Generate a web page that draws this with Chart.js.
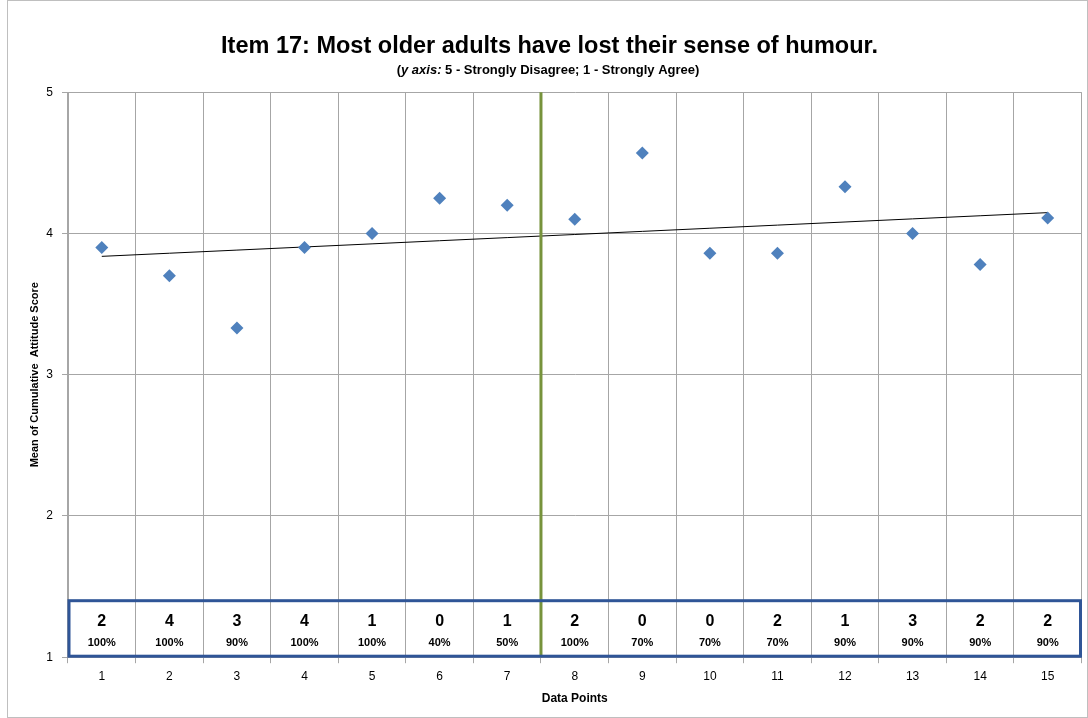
<!DOCTYPE html>
<html>
<head>
<meta charset="utf-8">
<script src="https://cdn.jsdelivr.net/npm/chart.js@4"></script>
<style>
  html, body { margin: 0; padding: 0; background: #fff; }
  #wrap { width: 1088px; height: 718px; position: relative; }
</style>
</head>
<body>
<div id="wrap"><canvas id="chart"></canvas></div>
<script>
const categories = ['1','2','3','4','5','6','7','8','9','10','11','12','13','14','15'];
const meanScores = [3.90, 3.70, 3.33, 3.90, 4.00, 4.25, 4.20, 4.10, 4.57, 3.86, 3.86, 4.33, 4.00, 3.78, 4.11];
const boxCounts = ['2','4','3','4','1','0','1','2','0','0','2','1','3','2','2'];
const boxPercents = ['100%','100%','90%','100%','100%','40%','50%','100%','70%','70%','70%','90%','90%','90%','90%'];
const yTicks = [1, 2, 3, 4, 5];
const phaseBreakAfter = 7;   // green line sits between point 7 and 8

// linear trend (least squares) over the means
const n = meanScores.length;
const mx = (n + 1) / 2;
const my = meanScores.reduce((a, b) => a + b, 0) / n;
let sxy = 0, sxx = 0;
meanScores.forEach((v, i) => { sxy += (i + 1 - mx) * (v - my); sxx += (i + 1 - mx) ** 2; });
const slope = sxy / sxx;
const trend = categories.map((_, i) => my + slope * (i + 1 - mx));

const FONT = "'Liberation Sans', Arial, sans-serif";

const extras = {
  id: 'extras',
  beforeDraw(chart) {
    const c = chart.ctx;
    c.save();
    c.fillStyle = '#fff';
    c.fillRect(0, 0, chart.width, chart.height);
    c.strokeStyle = '#bfbfbf';
    c.lineWidth = 1;
    c.strokeRect(7.5, 0.5, chart.width - 8, chart.height - 1);
    c.restore();
  },
  afterDraw(chart) {
    // subtitle with italic "y axis:" part
    const c = chart.ctx;
    c.save();
    c.fillStyle = '#000';
    c.textBaseline = 'middle';
    const parts = [
      ['(', 'bold 13px ' + FONT],
      ['y axis:', 'italic bold 13px ' + FONT],
      [' 5 - Strongly Disagree; 1 - Strongly Agree)', 'bold 13px ' + FONT]
    ];
    let w = 0;
    parts.forEach(p => { c.font = p[1]; w += c.measureText(p[0]).width; });
    let px = (chart.width + 8) / 2 - w / 2;
    parts.forEach(p => { c.font = p[1]; c.fillText(p[0], px, 70); px += c.measureText(p[0]).width; });
    c.restore();
  },
  afterDatasetsDraw(chart) {
    const c = chart.ctx, x = chart.scales.x, y = chart.scales.y, a = chart.chartArea;
    c.save();
    // phase change line
    const gx = (x.getPixelForValue(phaseBreakAfter - 1) + x.getPixelForValue(phaseBreakAfter)) / 2;
    c.strokeStyle = '#77933C';
    c.lineWidth = 3;
    c.beginPath(); c.moveTo(gx, a.top); c.lineTo(gx, a.bottom); c.stroke();
    // summary box
    const top = y.getPixelForValue(1.4), bot = a.bottom - 1;
    c.strokeStyle = '#2F5597';
    c.lineWidth = 3;
    c.strokeRect(a.left + 1, top, a.right - a.left - 2, bot - top);
    c.fillStyle = '#000';
    c.textAlign = 'center';
    c.textBaseline = 'middle';
    categories.forEach((_, i) => {
      const px = x.getPixelForValue(i);
      c.font = 'bold 16px ' + FONT;
      c.fillText(boxCounts[i], px, top + 21);
      c.font = 'bold 11px ' + FONT;
      c.fillText(boxPercents[i], px, top + 42);
    });
    c.restore();
  }
};

new Chart(document.getElementById('chart'), {
  type: 'line',
  data: {
    labels: categories,
    datasets: [{
      label: 'Mean',
      data: meanScores,
      showLine: false,
      pointStyle: 'rectRot',
      pointRadius: 6.5,
      pointBackgroundColor: '#4F81BD',
      pointBorderColor: '#4F81BD',
      pointBorderWidth: 0
    }, {
      label: 'Trend',
      data: trend,
      borderColor: '#000',
      borderWidth: 1,
      pointRadius: 0,
      fill: false,
      tension: 0
    }]
  },
  options: {
    responsive: true,
    maintainAspectRatio: false,
    animation: false,
    layout: { padding: { left: 13, right: 2, top: 14, bottom: 8 } },
    plugins: {
      legend: { display: false },
      tooltip: { enabled: false },
      title: {
        display: true,
        text: 'Item 17: Most older adults have lost their sense of humour.',
        color: '#000',
        font: { family: FONT, size: 23.5, weight: 'bold' },
        padding: { top: 18, bottom: 32 }
      },
      subtitle: { display: false }
    },
    scales: {
      x: {
        type: 'category',
        offset: true,
        grid: { offset: true, color: '#a6a6a6', tickLength: 6, drawTicks: true },
        border: { color: '#a6a6a6' },
        ticks: { color: '#000', font: { family: FONT, size: 12 }, padding: 6, maxRotation: 0 },
        title: { display: true, text: 'Data Points', color: '#000', font: { family: FONT, size: 12, weight: 'bold' }, padding: { top: 2 } }
      },
      y: {
        min: 1,
        max: 5,
        afterBuildTicks(s) { s.ticks = yTicks.map(v => ({ value: v })); },
        afterFit(s) { s.width = 55; },
        grid: { color: '#a6a6a6', tickLength: 6 },
        border: { color: '#a6a6a6' },
        ticks: { color: '#000', font: { family: FONT, size: 12 }, padding: 9 },
        title: { display: true, text: 'Mean of Cumulative  Attitude Score', color: '#000', font: { family: FONT, size: 11, weight: 'bold' }, padding: { top: 15.5, bottom: 0 } }
      }
    }
  },
  plugins: [extras]
});
</script>
</body>
</html>
